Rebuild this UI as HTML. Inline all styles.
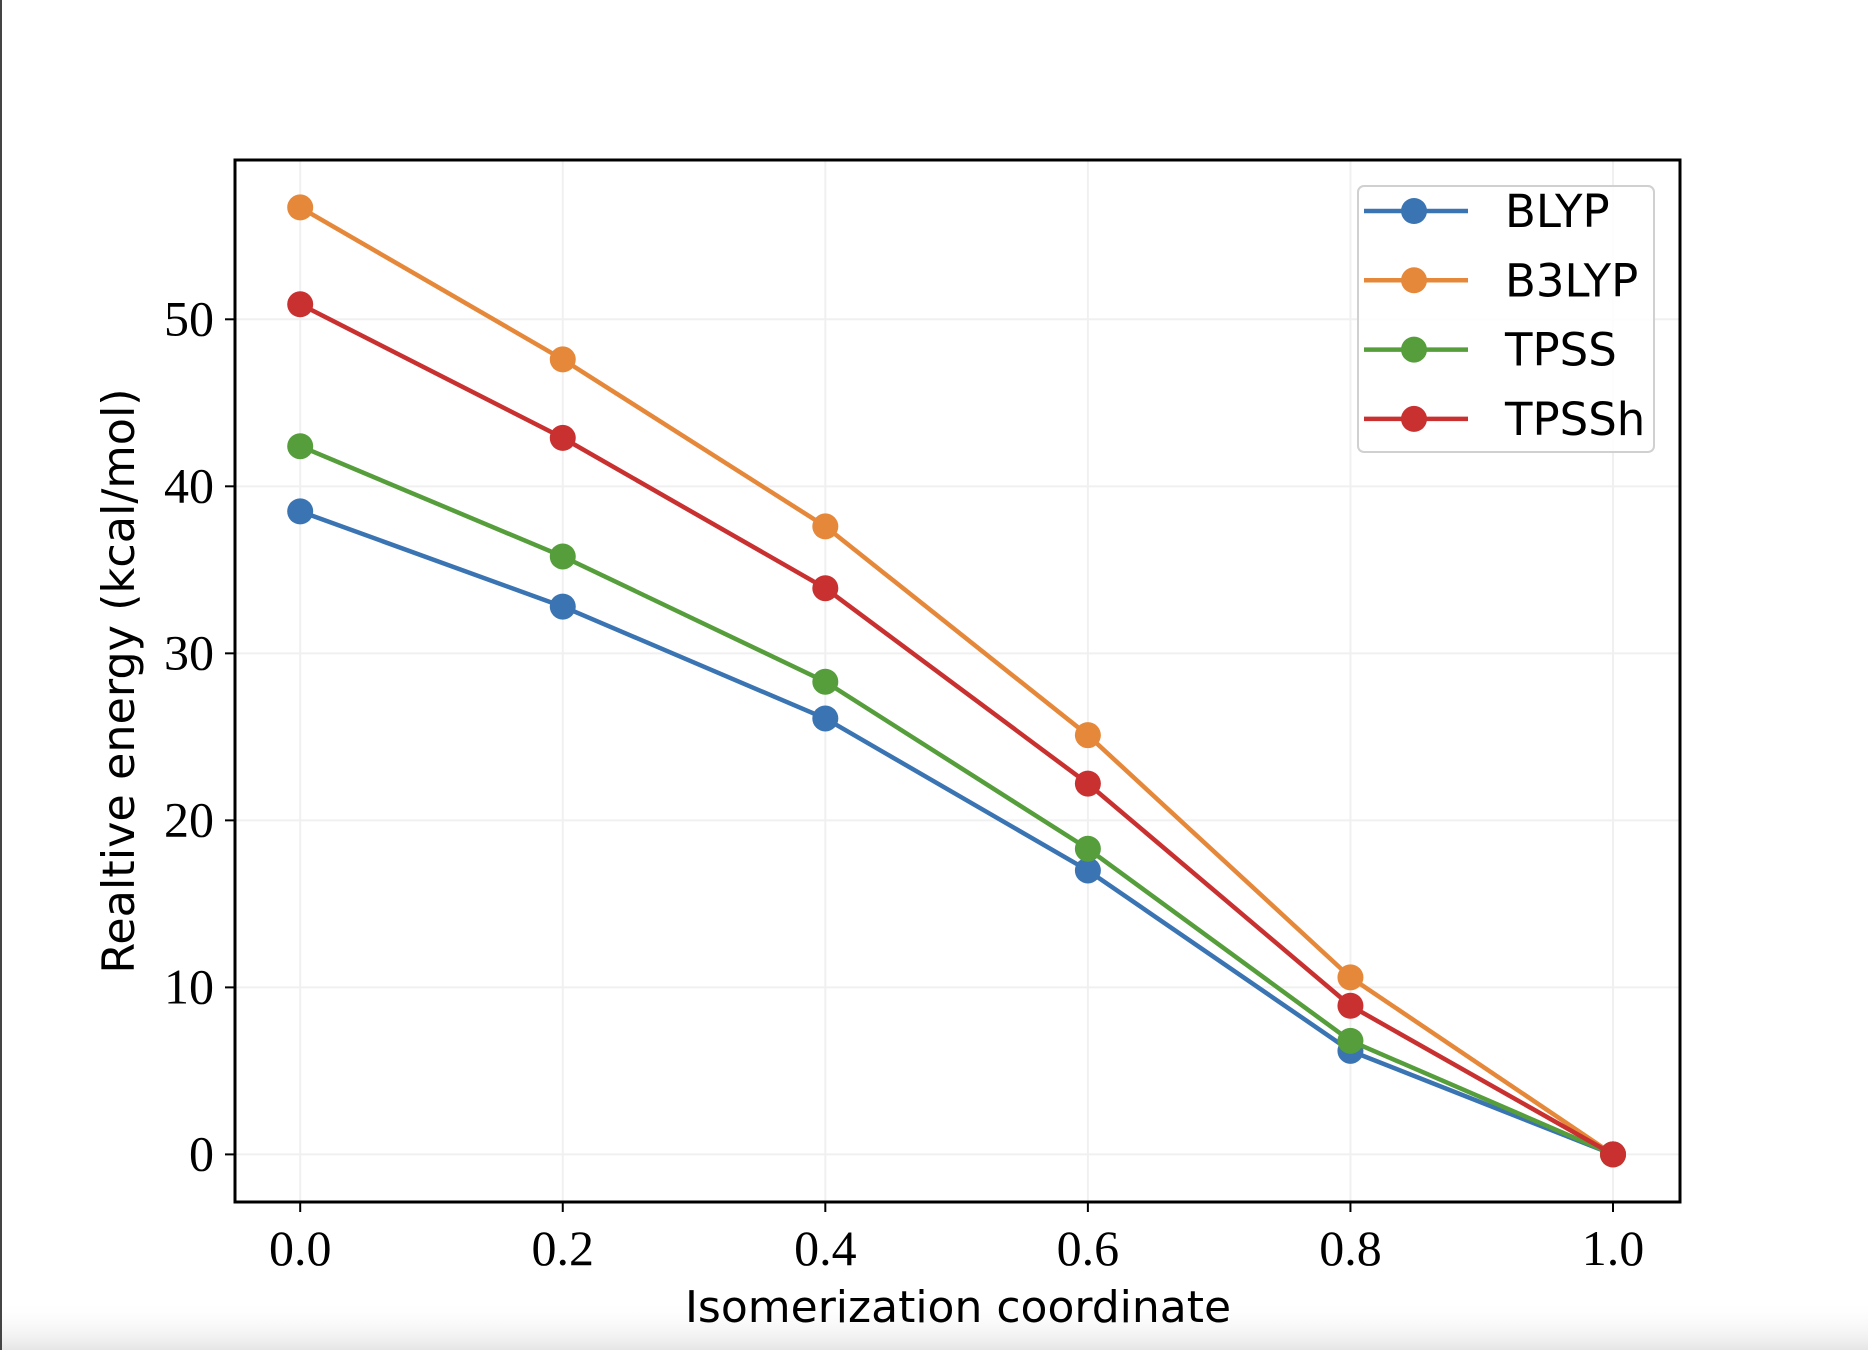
<!DOCTYPE html>
<html><head><meta charset="utf-8">
<style>
html,body{margin:0;padding:0;background:#fff;}
body{width:1868px;height:1350px;overflow:hidden;position:relative;}
svg{position:absolute;left:0;top:0;}
</style></head>
<body>
<svg id="chart" width="1868" height="1350" viewBox="0 0 1868 1350" xmlns="http://www.w3.org/2000/svg">
<defs>
<linearGradient id="bshade" x1="0" y1="0" x2="0" y2="1">
<stop offset="0" stop-color="#fff" stop-opacity="0"/>
<stop offset="1" stop-color="#e6e6e6"/>
</linearGradient>
</defs>
<rect x="0" y="1300" width="1868" height="50" fill="url(#bshade)"/>
<line x1="1" y1="0" x2="1" y2="1350" stroke="#444" stroke-width="2"/>
<g id="grid"></g>
<g id="series"></g>
<rect x="235" y="160" width="1445" height="1042" fill="none" stroke="#000" stroke-width="3"/>
<g id="ticks"></g>
<text x="958" y="1322" text-anchor="middle" font-family="'DejaVu Sans','Liberation Sans',sans-serif" font-size="44" fill="#000">Isomerization coordinate</text>
<text transform="translate(134,681) rotate(-90)" text-anchor="middle" font-family="'DejaVu Sans','Liberation Sans',sans-serif" font-size="44.5" fill="#000">Realtive energy (kcal/mol)</text>
<g id="legend"></g>
</svg>
<script>
const xs = [0.0, 0.2, 0.4, 0.6, 0.8, 1.0];
const seriesNames = ["BLYP", "B3LYP", "TPSS", "TPSSh"];
const blyp = [38.5, 32.8, 26.1, 17.0, 6.2, 0];
const b3lyp = [56.7, 47.6, 37.6, 25.1, 10.6, 0];
const tpss = [42.4, 35.8, 28.3, 18.3, 6.8, 0];
const tpssh = [50.9, 42.9, 33.9, 22.2, 8.9, 0];
const xTicks = [0.0, 0.2, 0.4, 0.6, 0.8, 1.0];
const xTickLabels = ["0.0", "0.2", "0.4", "0.6", "0.8", "1.0"];
const yTicks = [0, 10, 20, 30, 40, 50];
const yTickLabels = ["0", "10", "20", "30", "40", "50"];

const colors = ["#3a74b3", "#e6883a", "#559e3b", "#c93131"];
const allVals = [blyp, b3lyp, tpss, tpssh];
const NS = "http://www.w3.org/2000/svg";
function X(v){ return 300.2 + v * (1613 - 300.2); }
function Y(v){ return 1154.4 - v * (1154.4 - 319.3) / 50; }
function mk(tag, attrs, parent){ const e = document.createElementNS(NS, tag); for (const k in attrs) e.setAttribute(k, attrs[k]); parent.appendChild(e); return e; }

const grid = document.getElementById("grid");
const ticks = document.getElementById("ticks");
xTicks.forEach((t, i) => {
  const g = mk("line", {x1:X(t), x2:X(t), y1:160, y2:1202, stroke:"#f0f0f0", "stroke-width":2}, grid);
  
  
  const tk = mk("line", {x1:X(t), x2:X(t), y1:1202, y2:1212, stroke:"#000", "stroke-width":2}, ticks);
  
  
  const lb = mk("text", {x:X(t), y:1265, "text-anchor":"middle", "font-family":"'Liberation Serif','DejaVu Serif',serif", "font-size":50, fill:"#000"}, ticks);
  lb.textContent = xTickLabels[i];
  
  
});
yTicks.forEach((t, i) => {
  const g = mk("line", {x1:235, x2:1680, y1:Y(t), y2:Y(t), stroke:"#f0f0f0", "stroke-width":2}, grid);
  
  
  const tk = mk("line", {x1:225, x2:235, y1:Y(t), y2:Y(t), stroke:"#000", "stroke-width":2}, ticks);
  
  
  const lb = mk("text", {x:214, y:Y(t) + 16, "text-anchor":"end", "font-family":"'Liberation Serif','DejaVu Serif',serif", "font-size":50, fill:"#000"}, ticks);
  lb.textContent = yTickLabels[i];
  
  
});

const sg = document.getElementById("series");
allVals.forEach((vals, si) => {
  const pts = vals.map((v, i) => X(xs[i]) + "," + Y(v)).join(" ");
  const pl = mk("polyline", {points:pts, fill:"none", stroke:colors[si], "stroke-width":4.5, "stroke-linejoin":"round"}, sg);
  
  
  vals.forEach((v, i) => {
    const c = mk("circle", {cx:X(xs[i]), cy:Y(v), r:13, fill:colors[si]}, sg);
    
    
  });
});

const lg = document.getElementById("legend");
const box = mk("rect", {x:1358, y:186, width:296, height:266, rx:6, fill:"#fff", "fill-opacity":0.85, stroke:"#d0d0d0", "stroke-width":2}, lg);


seriesNames.forEach((n, i) => {
  const y = 211 + i * 69.3;
  const l = mk("line", {x1:1364, x2:1468, y1:y, y2:y, stroke:colors[i], "stroke-width":4.5}, lg);
  
  
  const c = mk("circle", {cx:1414, cy:y, r:13, fill:colors[i]}, lg);
  
  
  const t = mk("text", {x:1505, y:y + 16, "font-family":"'DejaVu Sans','Liberation Sans',sans-serif", "font-size":45, fill:"#000"}, lg);
  t.textContent = n;
  
  
});
</script>
</body></html>
